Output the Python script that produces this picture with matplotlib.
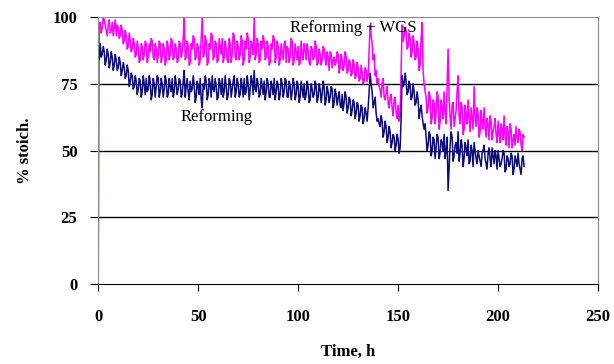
import numpy as np
import matplotlib.pyplot as plt

# readings on the hour, % of stoichiometric hydrogen yield
wgs = [0,
       98, 96, 99, 95, 97, 94, 98, 96, 93,
       96, 93, 95, 91, 93, 89, 91, 88, 90, 86,
       88, 84, 89, 86, 90, 85, 87, 91, 84, 88,
       86, 90, 85, 88, 84, 89, 86, 91, 85, 88,
       84, 90, 87, 100, 85, 89, 83, 88, 92, 85,
       89, 84, 100, 86, 91, 83, 88, 93, 85, 90,
       84, 89, 92, 85, 88, 83, 90, 86, 93, 84,
       89, 86, 91, 84, 88, 92, 85, 89, 100, 86,
       90, 84, 88, 91, 85, 89, 83, 88, 92, 85,
       89, 84, 87, 90, 83, 88, 85, 91, 84, 87,
       89, 83, 86, 90, 84, 87, 82, 88, 85, 89,
       83, 86, 84, 88, 82, 85, 87, 81, 85, 83,
       86, 81, 84, 82, 85, 80, 83, 79, 82, 78,
       81, 77, 79, 76, 80, 78, 97, 90, 86, 80,
       77, 73, 75, 70, 72, 68, 70, 66, 69, 64,
       67, 63, 97, 93, 95, 89, 92, 87, 90, 85,
       88, 82, 98, 75, 70, 66, 70, 62, 68, 64,
       70, 61, 66, 72, 60, 88, 63, 67, 59, 65,
       78, 60, 66, 58, 63, 69, 57, 62, 74, 59,
       64, 57, 61, 66, 55, 60, 63, 54, 59, 56,
       61, 53, 58, 63, 52, 57, 60, 51, 56, 59,
       53, 57, 50, 55]

# readings on the half hour (0.5, 1.5, ...)
wgs_half = [97, 94, 100, 97, 93, 99, 95, 93, 99, 97,
            92, 97, 90, 95, 88, 94, 87, 92, 85, 91,
            83, 90, 84, 91, 83, 90, 92, 85, 90, 83,
            91, 83, 90, 82, 91, 84, 92, 84, 90, 83,
            91, 85, 92, 84, 91, 82, 90, 93, 84, 90,
            82, 92, 85, 93, 82, 90, 94, 84, 91, 83,
            92, 86, 83, 91, 84, 92, 83, 94, 85, 91,
            84, 93, 82, 91, 94, 83, 91, 86, 84, 92,
            83, 91, 93, 84, 91, 82, 90, 93, 83, 91,
            82, 90, 84, 91, 89, 83, 92, 82, 90, 84,
            82, 91, 84, 88, 90, 83, 89, 84, 91, 82,
            88, 82, 89, 84, 87, 80, 86, 84, 82, 87,
            79, 86, 80, 87, 79, 84, 78, 84, 77, 83,
            76, 82, 75, 81, 76, 88, 93, 84, 78, 75,
            74, 70, 77, 69, 74, 66, 71, 63, 70, 62,
            61, 80, 91, 96, 88, 94, 85, 93, 84, 91,
            80, 92, 80, 72, 64, 72, 60, 69, 60, 72,
            58, 69, 62, 64, 74, 70, 58, 68, 62, 72,
            63, 68, 56, 67, 60, 62, 66, 58, 63, 66,
            55, 65, 58, 59, 62, 54, 61, 57, 62, 53,
            56, 60, 54, 55, 59, 51, 58, 54, 52, 55,
            58, 52, 56]

reforming = [88, 90, 86, 87, 84, 86, 83, 85, 82, 84,
             81, 83, 80, 81, 78, 80, 76, 78, 74, 76,
             73, 76, 72, 75, 77, 73, 76, 71, 75, 74,
             77, 72, 75, 73, 76, 71, 74, 77, 72, 75,
             73, 76, 71, 80, 74, 72, 76, 73, 75, 70,
             74, 77, 66, 73, 76, 71, 75, 78, 72, 74,
             70, 75, 77, 72, 74, 71, 76, 73, 78, 72,
             75, 71, 74, 77, 72, 75, 73, 76, 80, 72,
             75, 71, 74, 76, 72, 75, 70, 74, 77, 72,
             74, 71, 75, 72, 76, 70, 74, 72, 75, 71,
             74, 70, 73, 75, 71, 74, 69, 73, 71, 74,
             70, 73, 71, 74, 69, 72, 70, 73, 68, 71,
             70, 67, 71, 68, 70, 66, 69, 65, 68, 64,
             67, 63, 66, 62, 64, 66, 79, 72, 68, 64,
             62, 59, 61, 57, 59, 55, 57, 53, 55, 52,
             54, 51, 78, 75, 76, 72, 74, 70, 72, 68,
             69, 65, 63, 58, 55, 52, 56, 50, 54, 51,
             55, 49, 53, 56, 50, 35, 52, 55, 48, 53,
             57, 49, 52, 47, 51, 54, 46, 50, 53, 47,
             50, 46, 49, 52, 45, 49, 47, 51, 45, 48,
             50, 44, 47, 49, 43, 47, 45, 48, 43, 46,
             49, 43, 47, 44]

reforming_half = [84, 85, 89, 82, 88, 81, 87, 80, 86, 80,
                  85, 78, 83, 77, 82, 74, 79, 73, 78, 71,
                  77, 70, 78, 71, 72, 78, 69, 77, 70, 78,
                  70, 77, 70, 78, 70, 77, 72, 70, 78, 71,
                  77, 70, 76, 70, 77, 69, 72, 78, 68, 76,
                  71, 69, 75, 78, 69, 77, 70, 73, 77, 69,
                  77, 71, 70, 78, 69, 77, 70, 76, 70, 77,
                  70, 77, 70, 71, 78, 69, 78, 71, 73, 77,
                  70, 77, 71, 69, 77, 70, 76, 71, 69, 76,
                  69, 77, 70, 77, 70, 76, 69, 77, 69, 76,
                  68, 76, 70, 69, 76, 68, 75, 70, 76, 68,
                  75, 68, 76, 67, 74, 68, 74, 66, 73, 67,
                  72, 66, 65, 72, 64, 70, 63, 69, 62, 68,
                  61, 67, 60, 66, 61, 72, 75, 66, 70, 61,
                  60, 63, 55, 61, 53, 59, 51, 56, 50, 56,
                  49, 62, 74, 79, 71, 76, 69, 75, 67, 72,
                  62, 67, 60, 60, 50, 57, 48, 55, 47, 56,
                  47, 54, 50, 47, 55, 44, 57, 46, 52, 49,
                  46, 54, 44, 53, 48, 45, 52, 44, 50, 45,
                  48, 44, 50, 47, 43, 51, 44, 48, 50, 43,
                  47, 45, 50, 42, 48, 44, 49, 41, 48, 44,
                  45, 41, 48]


def merge(on_hour, on_half):
    t = np.concatenate([np.arange(len(on_hour)), np.arange(len(on_half)) + 0.5])
    v = np.concatenate([on_hour, on_half])
    order = np.argsort(t)
    return t[order], v[order]


serif = ['Liberation Serif', 'DejaVu Serif']

fig = plt.figure(figsize=(6.14, 3.64), dpi=100)
ax = fig.add_axes([0.16, 0.22, 0.814, 0.733])

t1, v1 = merge(wgs, wgs_half)
t2, v2 = merge(reforming, reforming_half)
ax.plot(t1, v1, color='#ff00ff', lw=1.1)
ax.plot(t2, v2, color='#0c0c78', lw=1.1)

ax.set_xlim(0, 250)
ax.set_ylim(0, 100)
ax.set_xticks([0, 50, 100, 150, 200, 250])
ax.set_yticks([0, 25, 50, 75, 100])

for y in [25, 50, 75]:
    ax.axhline(y, color='black', lw=1.0, zorder=0)

for s in ['top', 'right', 'left']:
    ax.spines[s].set_color('#8c8c8c')
ax.spines['bottom'].set_color('black')

ax.tick_params(axis='x', direction='out', length=5, pad=13, color='black')
ax.tick_params(axis='y', direction='out', length=6, pad=9, color='black')
for lab in ax.get_xticklabels() + ax.get_yticklabels():
    lab.set_family(serif)
    lab.set_fontweight('bold')
    lab.set_fontsize(12)

ax.set_xlabel('Time, h', family=serif, fontweight='bold', fontsize=12, labelpad=14)
ax.set_ylabel('% stoich.', family=serif, fontweight='bold', fontsize=12, labelpad=14)

ax.text(96, 96, 'Reforming + WGS', family=serif, fontsize=12, va='center')
ax.text(41, 62.5, 'Reforming', family=serif, fontsize=12, va='center')

fig.savefig('out.png', dpi=100)
